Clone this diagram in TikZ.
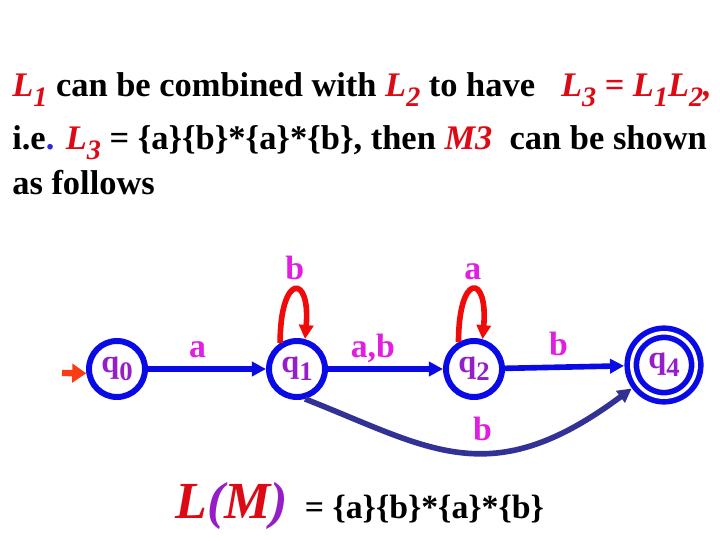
\documentclass[tikz,border=0pt]{standalone}
\usepackage{fontspec}
\setmainfont{Liberation Serif}
\usepackage{xcolor}
\usepackage{tikz}
\usetikzlibrary{arrows.meta, positioning}
\definecolor{stblue}{RGB}{10,10,230}
\definecolor{loopred}{RGB}{240,10,10}
\definecolor{curvenavy}{RGB}{50,50,150}
\definecolor{initorange}{RGB}{250,60,20}
\definecolor{lblmag}{RGB}{225,30,225}
\definecolor{stpurple}{RGB}{150,30,200}
\definecolor{txtred}{RGB}{220,10,20}
\definecolor{dotblue}{RGB}{40,40,220}
\newcommand{\lowidx}[1]{\raisebox{-7pt}{\fontsize{20}{20}\selectfont #1}}
\newcommand{\stidx}[1]{\raisebox{-6pt}{\fontsize{19}{19}\selectfont #1}}
\newcommand{\redL}[1]{\textcolor{txtred}{\itshape L\lowidx{#1}}}
\tikzset{
  txtline/.style={anchor=base west, inner sep=0pt,
    font=\bfseries\fontsize{24.5}{28}\selectfont},
  state/.style={circle, draw=stblue, line width=4.25pt, minimum size=1.4cm,
    inner sep=0pt, text=stpurple, font=\bfseries\fontsize{23}{26}\selectfont},
  accept/.style={state, line width=4pt, double=white, double distance=2.5pt,
    minimum size=1.61cm, outer sep=5.5pt},
  edgelbl/.style={anchor=base, yshift=8.5pt, inner sep=0pt, text=lblmag,
    font=\bfseries\fontsize{24}{28}\selectfont},
  trans/.style={-{Triangle[length=10pt,width=10pt]}, line width=4pt, draw=stblue},
  selfloop/.style={-{Triangle[length=10pt,width=10pt]}, line width=4pt, draw=loopred},
  skipedge/.style={-{Triangle[length=10pt,width=10pt]}, line width=4pt, draw=curvenavy},
  startarrow/.style={-{Triangle[length=10pt,width=13pt]}, line width=4.5pt, draw=initorange}
}
\begin{document}
\begin{tikzpicture}[x=0.025cm, y=0.025cm]
  \useasboundingbox (0,0) rectangle (720,540);
  % heading text
  \node[txtline] (line1) at (12,443) {\redL{1} can be combined with \redL{2} to have\ \ \
    \textcolor{txtred}{\itshape L\lowidx{3} = L\lowidx{1}L\lowidx{2},}};
  \node[txtline] (line2) at (12,390) {i.e{\color{dotblue}.} \redL{3} = \{a\}\{b\}*\{a\}*\{b\}, then
    \textcolor{txtred}{\itshape M3}\ \ can be shown};
  \node[txtline] (line3) at (12,345) {as follows};
  % states
  \node[state] (q0) at (117,171) {q\stidx{0}};
  \node[state] (q1) at (297,171) {q\stidx{1}};
  \node[state] (q2) at (474,171) {q\stidx{2}};
  \node[accept] (q4) at (664,175) {q\stidx{4}};
  \coordinate (init) at (62,167);
  % transitions
  \draw[startarrow] (init) -- (q0.188);
  \draw[trans] (q0) -- node[edgelbl, pos=0.42] {a} (q1);
  \draw[trans] (q1) -- node[edgelbl, pos=0.39] {a,b} (q2);
  \draw[trans] (q2) -- node[edgelbl, pos=0.45] {b} (q4);
  \draw[selfloop] (q1.123) .. controls +(90:70) and +(85:66) .. node[edgelbl, yshift=-1pt] {b} (q1.75);
  \draw[selfloop] (q2.120) .. controls +(90:70) and +(85:66) .. node[edgelbl, yshift=-1pt] {a} (q2.74);
  \draw[skipedge] (q1.-75) .. controls (430,92) and (490,46) .. node[edgelbl, pos=0.57] {b} (q4.216);
  % language of the machine
  \node[anchor=base west, inner sep=0pt] (lang) at (175,22)
    {{\fontsize{37}{40}\selectfont\bfseries\itshape\color{txtred}L{\color{stpurple}(}M{\color{stpurple})}}\hspace{12pt}%
     \bfseries\fontsize{24}{28}\selectfont = \{a\}\{b\}*\{a\}*\{b\}};
\end{tikzpicture}
\end{document}
